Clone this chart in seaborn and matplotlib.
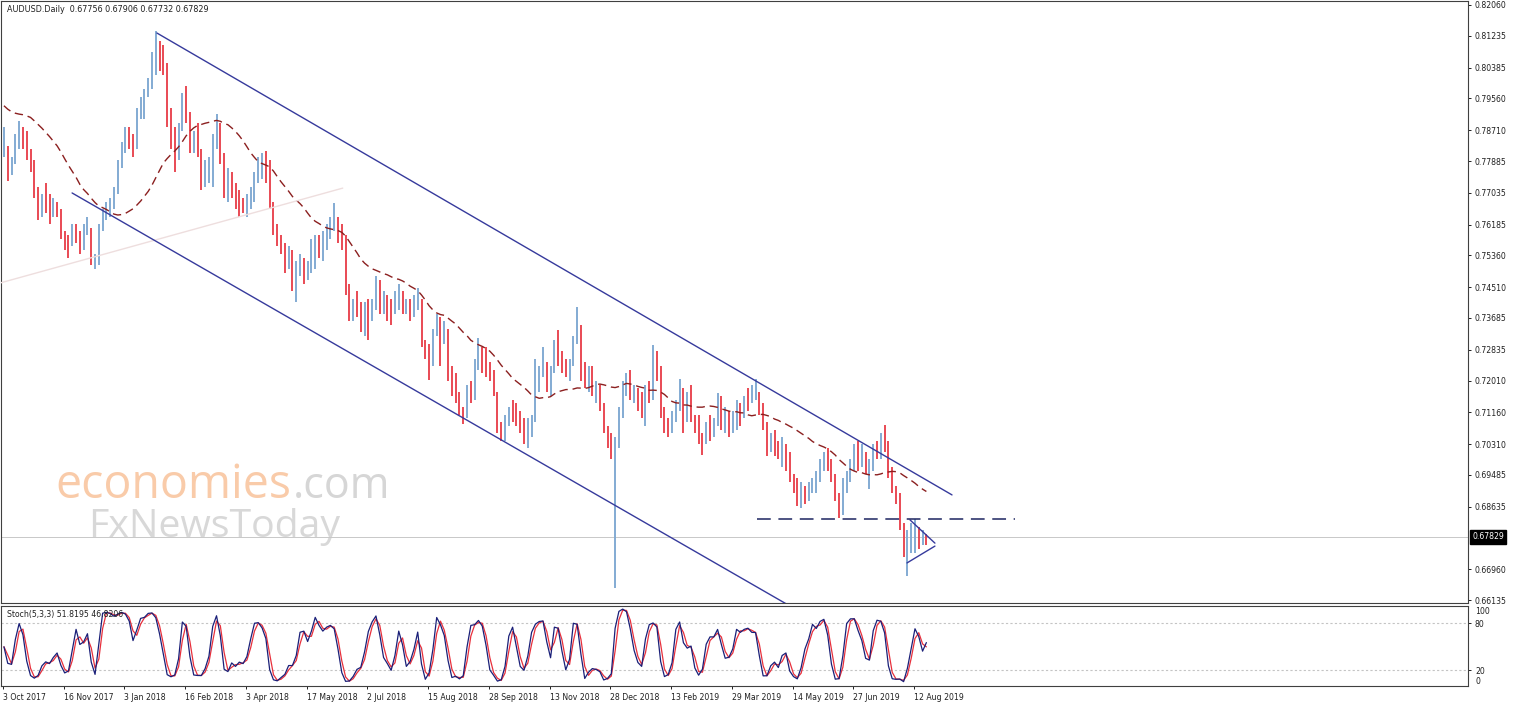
import numpy as np
import pandas as pd
import matplotlib
matplotlib.use("Agg")
import matplotlib.pyplot as plt
import matplotlib.transforms as mtransforms
import seaborn as sns

# AUDUSD daily, sampled as 2-day bars (prices in pips, x 0.0001)
# closes before the first visible bar, only used to seed the moving average
pre_close = [7990, 7960, 7940, 7920, 7880, 7880, 7880, 7930, 7920, 7920, 7940, 7930,
             7980, 7960, 8010, 8030, 8000, 8000, 7990, 8040, 7950, 7860, 7840, 7820]

bar_high = [
    7880, 7830, 7800, 7860, 7895, 7880, 7870, 7820, 7790, 7720, 7700, 7730, 7700, 7690, 7680, 7660,
    7600, 7590, 7620, 7620, 7600, 7620, 7640, 7610, 7540, 7620, 7660, 7680, 7690, 7720, 7790, 7840,
    7880, 7880, 7860, 7930, 7960, 7980, 8010, 8080, 8136, 8110, 8100, 8050, 7930, 7880, 7890, 7970,
    7988, 7920, 7870, 7890, 7820, 7790, 7800, 7860, 7915, 7890, 7810, 7770, 7760, 7730, 7710, 7690,
    7700, 7720, 7760, 7800, 7810, 7815, 7790, 7680, 7620, 7590, 7570, 7560, 7550, 7520, 7540, 7530,
    7520, 7580, 7590, 7590, 7600, 7620, 7640, 7677, 7640, 7620, 7590, 7460, 7420, 7440, 7410, 7410,
    7420, 7420, 7480, 7470, 7440, 7430, 7420, 7440, 7460, 7440, 7420, 7420, 7430, 7450, 7420, 7310,
    7300, 7340, 7380, 7370, 7360, 7340, 7240, 7220, 7170, 7130, 7190, 7200, 7260, 7315, 7290, 7290,
    7250, 7230, 7170, 7090, 7110, 7130, 7150, 7140, 7120, 7100, 7100, 7110, 7260, 7240, 7290, 7250,
    7240, 7310, 7336, 7280, 7260, 7260, 7320, 7398, 7350, 7250, 7240, 7240, 7200, 7190, 7140, 7080,
    7060, 7050, 7130, 7200, 7220, 7230, 7190, 7180, 7170, 7190, 7200, 7296, 7280, 7240, 7130, 7100,
    7120, 7150, 7205, 7180, 7170, 7190, 7110, 7110, 7060, 7090, 7110, 7100, 7168, 7160, 7130, 7120,
    7120, 7150, 7140, 7160, 7180, 7190, 7206, 7170, 7140, 7090, 7060, 7070, 7040, 7050, 7030, 7010,
    6950, 6940, 6930, 6920, 6930, 6940, 6960, 6990, 7010, 7020, 6990, 6950, 6900, 6940, 6960, 6990,
    7030, 7040, 7030, 7010, 6990, 7030, 7040, 7060, 7082, 7040, 6970, 6920, 6900, 6820, 6800, 6820,
    6830, 6810, 6800, 6791]

bar_low = [
    7800, 7735, 7750, 7780, 7820, 7820, 7790, 7760, 7690, 7630, 7640, 7650, 7620, 7640, 7640, 7580,
    7550, 7530, 7560, 7570, 7540, 7550, 7590, 7510, 7500, 7510, 7600, 7630, 7640, 7660, 7700, 7770,
    7810, 7820, 7800, 7820, 7900, 7900, 7960, 7980, 8020, 8030, 8020, 7880, 7820, 7760, 7790, 7870,
    7890, 7810, 7810, 7800, 7710, 7720, 7730, 7720, 7820, 7780, 7690, 7680, 7690, 7660, 7640, 7650,
    7640, 7660, 7680, 7730, 7740, 7730, 7660, 7590, 7560, 7540, 7490, 7500, 7440, 7412, 7480, 7460,
    7470, 7490, 7500, 7530, 7520, 7550, 7580, 7600, 7570, 7550, 7430, 7360, 7360, 7370, 7330, 7320,
    7310, 7360, 7390, 7380, 7380, 7360, 7350, 7380, 7390, 7380, 7380, 7360, 7370, 7390, 7290, 7260,
    7202, 7240, 7320, 7240, 7300, 7200, 7160, 7140, 7110, 7085, 7100, 7140, 7150, 7230, 7220, 7210,
    7200, 7160, 7060, 7040, 7040, 7080, 7090, 7080, 7060, 7030, 7020, 7050, 7090, 7170, 7210, 7170,
    7160, 7220, 7240, 7220, 7210, 7200, 7240, 7300, 7200, 7180, 7170, 7160, 7140, 7120, 7060, 7020,
    6990, 6645, 7020, 7100, 7160, 7150, 7140, 7120, 7100, 7080, 7140, 7150, 7200, 7100, 7060, 7050,
    7060, 7090, 7120, 7060, 7090, 7090, 7060, 7030, 7003, 7030, 7040, 7050, 7080, 7070, 7060, 7050,
    7060, 7070, 7080, 7100, 7120, 7140, 7150, 7110, 7070, 7000, 7010, 7000, 6990, 6970, 6960, 6930,
    6900, 6865, 6860, 6870, 6880, 6900, 6900, 6930, 6960, 6960, 6930, 6880, 6832, 6840, 6900, 6930,
    6960, 6960, 6970, 6950, 6911, 6960, 6990, 6990, 7010, 6940, 6900, 6870, 6800, 6730, 6677, 6740,
    6740, 6750, 6760, 6760]

bar_close = [
    7840, 7760, 7790, 7840, 7860, 7840, 7800, 7780, 7700, 7670, 7680, 7660, 7650, 7670, 7650, 7600,
    7570, 7560, 7600, 7590, 7570, 7600, 7600, 7520, 7530, 7610, 7650, 7670, 7680, 7710, 7780, 7830,
    7860, 7850, 7830, 7920, 7930, 7970, 8000, 8070, 8100, 8060, 8050, 7900, 7860, 7800, 7880, 7950,
    7910, 7830, 7840, 7810, 7740, 7760, 7770, 7850, 7890, 7800, 7700, 7750, 7710, 7690, 7680, 7660,
    7680, 7690, 7750, 7760, 7780, 7760, 7680, 7600, 7580, 7560, 7510, 7530, 7460, 7500, 7520, 7490,
    7500, 7560, 7580, 7550, 7580, 7590, 7620, 7630, 7600, 7560, 7440, 7380, 7400, 7390, 7350, 7400,
    7390, 7410, 7460, 7400, 7420, 7380, 7370, 7400, 7440, 7390, 7410, 7380, 7410, 7420, 7300, 7280,
    7250, 7320, 7360, 7330, 7330, 7210, 7190, 7160, 7120, 7110, 7180, 7160, 7240, 7280, 7270, 7230,
    7220, 7170, 7070, 7060, 7100, 7120, 7110, 7100, 7080, 7050, 7080, 7090, 7210, 7230, 7250, 7190,
    7230, 7300, 7260, 7250, 7230, 7250, 7310, 7340, 7220, 7200, 7220, 7170, 7170, 7130, 7070, 7040,
    7020, 7045, 7120, 7190, 7190, 7170, 7170, 7150, 7120, 7180, 7160, 7270, 7230, 7120, 7090, 7080,
    7100, 7130, 7180, 7100, 7160, 7100, 7080, 7050, 7040, 7080, 7060, 7090, 7130, 7090, 7100, 7090,
    7100, 7130, 7110, 7150, 7140, 7170, 7170, 7130, 7080, 7030, 7050, 7020, 7010, 7020, 6990, 6940,
    6920, 6870, 6910, 6890, 6920, 6920, 6940, 6980, 6990, 6970, 6940, 6890, 6850, 6920, 6940, 6970,
    7010, 6990, 7010, 6960, 6970, 7020, 7010, 7050, 7030, 6960, 6910, 6890, 6810, 6740, 6760, 6770,
    6800, 6770, 6790, 6783]

date_labels = ["3 Oct 2017", "16 Nov 2017", "3 Jan 2018", "16 Feb 2018", "3 Apr 2018",
               "17 May 2018", "2 Jul 2018", "15 Aug 2018", "28 Sep 2018", "13 Nov 2018",
               "28 Dec 2018", "13 Feb 2019", "29 Mar 2019", "14 May 2019", "27 Jun 2019",
               "12 Aug 2019"]
price_ticks = [0.82060, 0.81235, 0.80385, 0.79560, 0.78710, 0.77885, 0.77035, 0.76185,
               0.75360, 0.74510, 0.73685, 0.72835, 0.72010, 0.71160, 0.70310, 0.69485,
               0.68635, 0.66960, 0.66135]
last_price = 0.67829

# drawn objects (trading-day index, price)
channel_upper = [(81.1, 0.8131), (500.0, 0.6895)]
channel_lower = [(36.4, 0.7703), (420.0, 0.6582)]
faint_line = [(-1.6, 0.7462), (179.0, 0.7716)]
support_line = [(397.3, 0.6831), (533.2, 0.6831)]
tri_upper = [(477.9, 0.6828), (491.0, 0.6766)]
tri_lower = [(476.3, 0.6713), (491.0, 0.6758)]

# ---- frame ----
df = pd.DataFrame({
    "day": np.arange(len(bar_close)) * 2 + 0.5,
    "high": np.array(bar_high) / 1e4,
    "low": np.array(bar_low) / 1e4,
    "close": np.array(bar_close) / 1e4,
})
df["open"] = np.r_[pre_close[-1] / 1e4, df["close"].values[:-1]]
all_close = pd.Series(np.r_[np.array(pre_close) / 1e4, df["close"].values])
df["ma"] = all_close.rolling(25, min_periods=1).mean().values[len(pre_close):]

# stochastic on the 2-day bars (periods scaled from 5,3,3 daily)
hh = df["high"].rolling(3, min_periods=1).max()
ll = df["low"].rolling(3, min_periods=1).min()
num = (df["close"] - ll).rolling(2, min_periods=1).sum()
den = (hh - ll).rolling(2, min_periods=1).sum()
df["stoch"] = 100 * num / den
df["signal"] = df["stoch"].rolling(2, min_periods=1).mean()

sns.set_theme(style="white")
plt.rcParams["font.family"] = ["DejaVu Sans"]

W, H = 1515, 706
fig = plt.figure(figsize=(W / 100, H / 100), dpi=100)
ax = fig.add_axes([1 / W, 1 - 603 / H, 1467 / W, 602 / H])
axs = fig.add_axes([1 / W, 1 - 686 / H, 1467 / W, 80 / H])

px_per_day = 1.898
xl = (-2 / px_per_day, 1465 / px_per_day)

for a in (ax, axs):
    a.set_xlim(*xl)
    for s in a.spines.values():
        s.set_color("#404040")
        s.set_linewidth(0.8)
    a.set_facecolor("white")

# watermark
ax.text(54 / 1467, 1 - 497 / 602, "economies", transform=ax.transAxes, fontsize=33.5,
        color="#f9cba9", family="Open Sans", va="baseline", ha="left", zorder=0)
ax.text(292 / 1467, 1 - 497 / 602, ".com", transform=ax.transAxes, fontsize=31,
        color="#d6d6d6", family="Open Sans", va="baseline", ha="left", zorder=0)
ax.text(87 / 1467, 1 - 536 / 602, "FxNewsToday", transform=ax.transAxes, fontsize=28.3,
        color="#d8d8d8", family="Open Sans", va="baseline", ha="left", zorder=0)

# price bars
cols = np.where(df["close"] >= df["open"], "#7fa8d2", "#e8434d")
ax.vlines(df["day"], df["low"], df["high"], colors=cols, lw=1.35, zorder=3)

# moving average
sns.lineplot(x=df["day"], y=df["ma"], ax=ax, color="#8b1f1f", lw=1.0,
             linestyle=(0, (6, 3.5)), zorder=4)

# drawn lines
for seg, c, lw, ls in [(faint_line, "#eedede", 1.0, "-"),
                       (channel_upper, "#363a9c", 1.0, "-"),
                       (channel_lower, "#363a9c", 1.0, "-"),
                       (tri_upper, "#363a9c", 1.0, "-"),
                       (tri_lower, "#363a9c", 1.0, "-"),
                       (support_line, "#1c2460", 1.1, (0, (9, 5)))]:
    xs, ys = zip(*seg)
    ax.plot(xs, ys, color=c, lw=lw, linestyle=ls, zorder=5)

ax.axhline(last_price, color="#c8c8c8", lw=0.7, zorder=1)

ax.set_ylim(0.82060 - 598 * 0.0002676, 0.82060 + 4 * 0.0002676)
ax.yaxis.tick_right()
ax.set_yticks(price_ticks)
ax.set_yticklabels([f"{v:.5f}" for v in price_ticks])
ax.tick_params(axis="y", right=True, direction="out", length=2.2, width=0.7,
               pad=2.8, labelsize=5.6, colors="#202020")
ax.set_xticks([])
ax.set_xlabel("")
ax.set_ylabel("")

trans = mtransforms.blended_transform_factory(ax.transAxes, ax.transData)
ax.text(1 + 4 / 1467, last_price, f"{last_price:.5f}", transform=trans, fontsize=5.6,
        color="white", va="center", ha="left",
        bbox=dict(boxstyle="square,pad=0.3", fc="black", ec="black"))

ax.text(6 / 1467, 1 - 8 / 602, "AUDUSD.Daily  0.67756 0.67906 0.67732 0.67829",
        transform=ax.transAxes, fontsize=5.8, color="#202020", va="center", ha="left")

# stochastic panel
sns.lineplot(x=df["day"], y=df["signal"], ax=axs, color="#e8303c", lw=0.9)
sns.lineplot(x=df["day"], y=df["stoch"], ax=axs, color="#1a1f78", lw=0.9)
for lvl in (80, 20):
    axs.axhline(lvl, color="#c4c4c4", lw=0.8, linestyle=(0, (2, 2)), zorder=0)
axs.set_ylim(0, 102)
axs.yaxis.tick_right()
axs.set_yticks([80, 20])
axs.set_yticklabels(["80", "20"])
axs.tick_params(axis="y", right=True, direction="out", length=2.2, width=0.7,
                pad=2.8, labelsize=5.6, colors="#202020")
axs.text(1 + 7 / 1467, 1 - 5 / 80, "100", transform=axs.transAxes, fontsize=5.6,
         color="#202020", va="center", ha="left")
axs.text(1 + 7 / 1467, 1 - 75 / 80, "0", transform=axs.transAxes, fontsize=5.6,
         color="#202020", va="center", ha="left")
axs.text(6 / 1467, 1 - 8 / 80, "Stoch(5,3,3) 51.8195 46.8206", transform=axs.transAxes,
         fontsize=5.6, color="#202020", va="center", ha="left")

axs.set_xticks(np.arange(len(date_labels)) * 32)
axs.set_xticklabels(date_labels, ha="left")
axs.tick_params(axis="x", bottom=True, direction="out", length=2.5, width=0.7,
                pad=2.5, labelsize=5.6, colors="#202020")
axs.set_xlabel("")
axs.set_ylabel("")

fig.savefig("out.png", dpi=100, facecolor="white")
